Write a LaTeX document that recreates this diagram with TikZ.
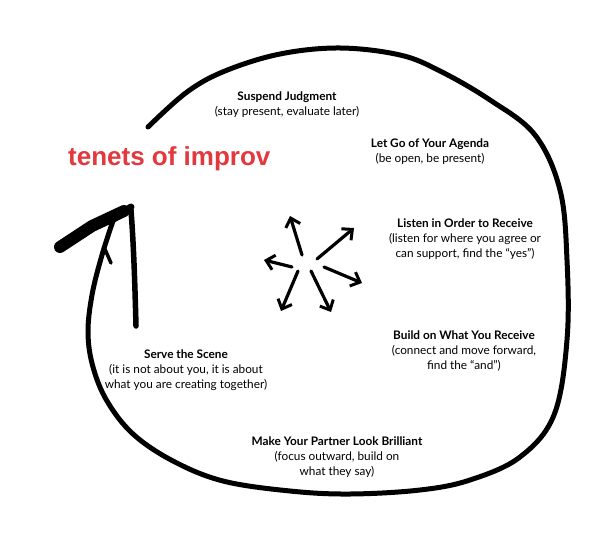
\documentclass[tikz,border=0pt]{standalone}
\usepackage{fontspec}
\setmainfont{Lato}
\newfontfamily\titlefont{Liberation Sans}
\usetikzlibrary{arrows.meta}
\definecolor{titlered}{RGB}{226,56,62}
\tikzset{
  tenet/.style={align=center, font=\fontsize{11.8}{15}\selectfont, inner sep=0pt},
  loopline/.style={line width=5pt, line cap=round, line join=round},
  burst/.style={line width=3.2pt, line cap=round, -{Straight Barb[length=8pt,width=15pt,line width=3pt]}},
}
\begin{document}
\begin{tikzpicture}[x=1pt,y=-1pt]
\useasboundingbox (0,0) rectangle (612,540);
\fill[white] (0,0) rectangle (612,540);

% big loop
\draw[loopline] plot[smooth, tension=0.6] coordinates {
 (148,127) (187,92) (225,71) (280,54) (340,48) (400,55) (440,71) (490,100)
 (535,135) (560,190) (567,260) (567,340) (554,415) (520,457) (470,480)
 (420,490) (350,494) (290,491) (223,481) (173,461) (133,434) (107,401)
 (93,367) (88,333) (92,295) (102,255) (114,218)};
% hand-drawn arrow head
\draw[line width=12pt, line cap=round] (60,247) -- (92,226) -- (124,211);
\draw[line width=7pt, line cap=round] (112,220) -- (131,207);
\draw[line width=5.5pt, line cap=round] (131,210) .. controls (134,250) and (135,290) .. (136,326);
\draw[line width=3.5pt, line cap=round] (104,247) -- (111,263);

% center burst
\coordinate (c) at (307,263);
\draw[burst] (302,255) -- (290,216);
\draw[burst] (317,259) -- (354,228);
\draw[burst] (324,267) -- (362,283);
\draw[burst] (311,271) -- (331,312);
\draw[burst] (298,271) -- (281,311);
\draw[burst] (292,267) -- (264,260);

% title
\node[anchor=base west, inner sep=0pt, text=titlered, font=\titlefont\bfseries\fontsize{26}{30}\selectfont] (title) at (68,165) {tenets of improv};

% tenets
\node[tenet] (t1) at (287,105) {\textbf{Suspend Judgment}\\(stay present, evaluate later)};
\node[tenet] (t2) at (430,152) {\textbf{Let Go of Your Agenda}\\(be open, be present)};
\node[tenet] (t3) at (465,239) {\textbf{Listen in Order to Receive}\\(listen for where you agree or\\can support, find the “yes”)};
\node[tenet] (t4) at (464,351) {\textbf{Build on What You Receive}\\(connect and move forward,\\find the “and”)};
\node[tenet] (t5) at (186,370) {\textbf{Serve the Scene}\\(it is not about you, it is about\\what you are creating together)};
\node[tenet] (t6) at (337,457) {\textbf{Make Your Partner Look Brilliant}\\(focus outward, build on\\what they say)};
\end{tikzpicture}
\end{document}
